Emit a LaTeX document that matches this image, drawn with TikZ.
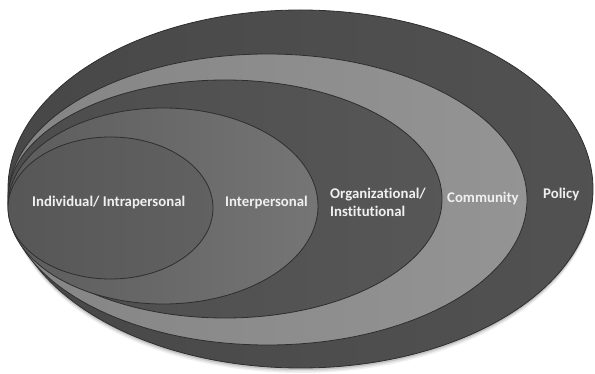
\documentclass[tikz,border=0pt]{standalone}
\usepackage{fontspec}
\setmainfont{Carlito}[RawFeature=-liga]
\begin{document}
\begin{tikzpicture}[x=1pt,y=-1pt,
  ring/.style={draw=black!82,line width=0.8pt},
  lbl/.style={text=white!94!black,font=\bfseries\fontsize{14.8}{18}\selectfont,inner sep=0pt,align=left}]
\useasboundingbox (0,0) rectangle (595,374);
% soft shadow of the outer disc
\foreach \o/\a in {5/0.06,3.5/0.08,2/0.12}{
  \fill[black,opacity=\a] (300.5,189+\o) ellipse [x radius=292.5, y radius=179];
}
% Policy
\shade[ring,left color=black!72,right color=black!68] (300.5,189) ellipse [x radius=292.5, y radius=179];
% Community
\shade[ring,left color=black!48,right color=black!42] (267.5,199.5) ellipse [x radius=259.5, y radius=145.5];
% Organizational / Institutional
\shade[ring,left color=black!70,right color=black!66] (225,199) ellipse [x radius=217, y radius=119];
% Interpersonal
\shade[ring,left color=black!64,right color=black!54] (163,206) ellipse [x radius=155, y radius=98];
% Individual / Intrapersonal
\shade[ring,left color=black!66,right color=black!62] (110.5,208) ellipse [x radius=102.5, y radius=71];
% labels
\node[lbl,anchor=west] (ind) at (32,202) {Individual/ Intrapersonal};
\node[lbl,anchor=west] (inter) at (225,202) {Interpersonal};
\node[lbl,anchor=west] (org) at (330,202.5) {Organizational/\\Institutional};
\node[lbl,anchor=west] (com) at (447,198) {Community};
\node[lbl,anchor=west] (pol) at (543,194) {Policy};
\end{tikzpicture}
\end{document}
